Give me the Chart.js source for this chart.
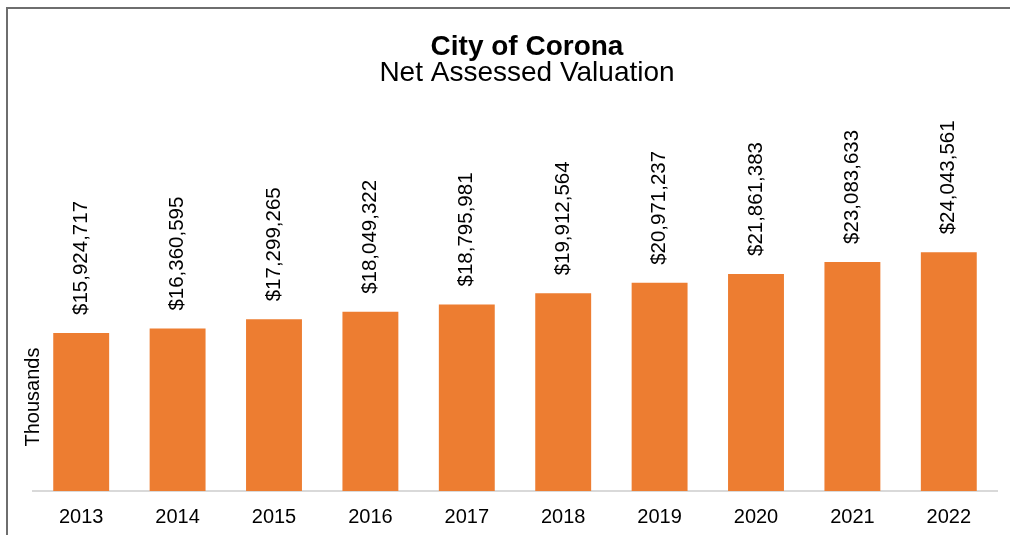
<!DOCTYPE html>
<html>
<head>
<meta charset="utf-8">
<script src="https://cdn.jsdelivr.net/npm/chart.js@4.4.1/dist/chart.umd.min.js"></script>
<style>
    body { margin: 0; background: #fff; }
    .wrap { position: relative; width: 1010px; height: 535px; overflow: hidden; }
    .frame { position: absolute; left: 6px; top: 7px; right: 0; bottom: 0;
             border-top: 2px solid #6e6e6e; border-left: 2px solid #6e6e6e; }
    canvas { position: absolute; left: 0; top: 0; }
</style>
</head>
<body>
<div class="wrap">
    <div class="frame"></div>
    <canvas id="myChart" width="1010" height="543"></canvas>
</div>
<script>
const years = ["2013", "2014", "2015", "2016", "2017", "2018", "2019", "2020", "2021", "2022"];
const valuation = [15924717, 16360595, 17299265, 18049322, 18795981, 19912564, 20971237, 21861383, 23083633, 24043561];
const titleText = "City of Corona";
const subtitleText = "Net Assessed Valuation";
const axisTitle = "Thousands";

const fontFamily = "'Liberation Sans', Arial, sans-serif";

function money(v) {
    return "$" + v.toLocaleString("en-US");
}

// value labels above bars, turned on their side
const barLabels = {
    id: "barLabels",
    afterDatasetsDraw(chart) {
        const ctx = chart.ctx;
        const meta = chart.getDatasetMeta(0);
        ctx.save();
        ctx.font = "20.5px " + fontFamily;
        ctx.fillStyle = "#000";
        ctx.textAlign = "left";
        ctx.textBaseline = "middle";
        meta.data.forEach(function (bar, i) {
            ctx.save();
            ctx.translate(bar.x, bar.y - 18);
            ctx.rotate(-Math.PI / 2);
            ctx.fillText(money(valuation[i]), 0, 0);
            ctx.restore();
        });
        ctx.restore();
    }
};

// titles and the axis caption
const texts = {
    id: "texts",
    afterDraw(chart) {
        const ctx = chart.ctx;
        ctx.save();
        ctx.fillStyle = "#000";
        ctx.textAlign = "center";
        ctx.textBaseline = "alphabetic";
        ctx.font = "bold 28px " + fontFamily;
        ctx.fillText(titleText, 527, 55);
        ctx.font = "28px " + fontFamily;
        ctx.fillText(subtitleText, 527, 81);

        ctx.translate(33, 397);
        ctx.rotate(-Math.PI / 2);
        ctx.font = "20px " + fontFamily;
        ctx.textBaseline = "middle";
        ctx.fillText(axisTitle, 0, 0);
        ctx.restore();
    }
};

new Chart(document.getElementById("myChart"), {
    type: "bar",
    data: {
        labels: years,
        datasets: [{
            data: valuation,
            backgroundColor: "#ED7D31",
            borderWidth: 0,
            categoryPercentage: 1,
            barPercentage: 0.58
        }]
    },
    options: {
        responsive: false,
        animation: false,
        layout: {
            padding: { left: 33, right: 13, top: 94, bottom: 0 }
        },
        plugins: {
            legend: { display: false },
            tooltip: { enabled: false }
        },
        scales: {
            x: {
                grid: { display: false, drawTicks: false },
                border: { display: true, color: "#d9d9d9", width: 2 },
                ticks: {
                    color: "#000",
                    padding: 14,
                    font: { family: fontFamily, size: 20 }
                }
            },
            y: {
                display: false,
                min: 0,
                max: 40000000
            }
        }
    },
    plugins: [barLabels, texts]
});
</script>
</body>
</html>
